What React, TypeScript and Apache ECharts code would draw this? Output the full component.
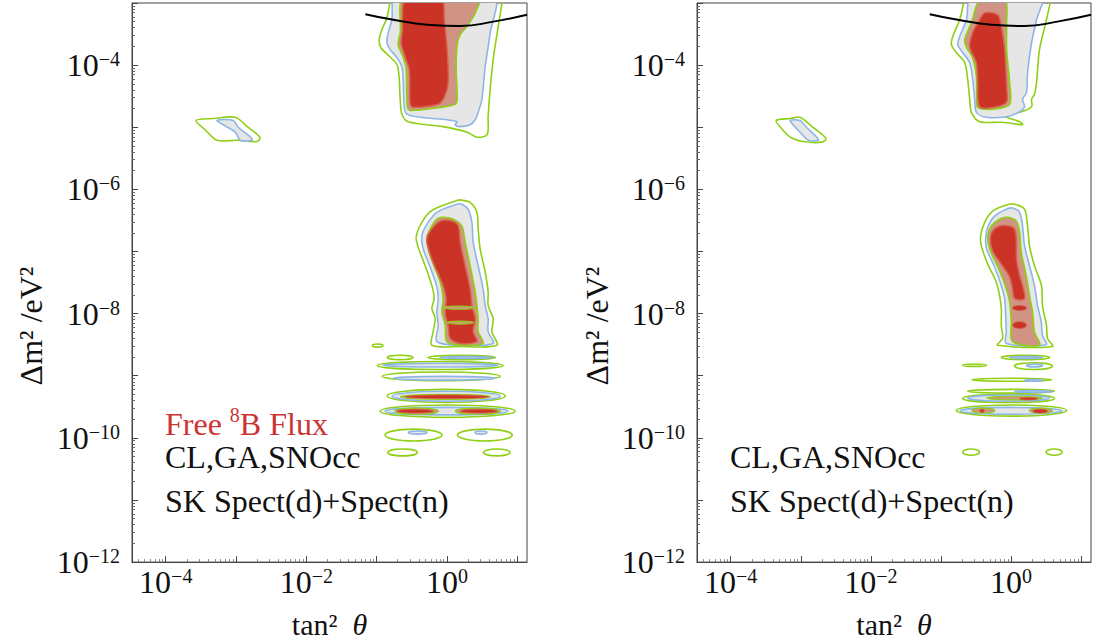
import React, { useEffect, useRef } from "react";
import * as echarts from "echarts";

const FONT = '"Liberation Serif", "Times New Roman", serif';
const GREEN = "#8fcf14";
const BLUE = "#8db6e6";
const GRAY = "#e6e6e6";
const TAN = "#d19484";
const RED = "#cb3326";
const RED_EDGE = "#d5624c";

// axes (log10 units)
const X_MIN = -4.48;
const X_MAX = 1.14;
const Y_MIN = -12;
const Y_MAX = -3;
const X_LABELS = [-4, -2, 0];
const Y_LABELS = [-12, -10, -8, -6, -4];
const X_MAJOR = [-4, -3, -2, -1, 0, 1];
const Y_MAJOR = [-12, -11, -10, -9, -8, -7, -6, -5, -4, -3];
const MINOR_FACTORS = [2, 3, 4, 5, 6, 7, 8, 9];

// black bound curve: [log tan^2, log dm^2]
const BOUND_CURVE = [[-1.16, -3.18], [-0.76, -3.27], [-0.28, -3.35], [0.19, -3.37], [0.66, -3.30], [1.14, -3.19]];

// ---------- left panel (Free 8B flux) ----------
const L_UPPER_OUTER = [[-0.80, -2.9], [-0.853, -3.24], [-0.925, -3.43], [-0.963, -3.59], [-0.939, -3.72], [-0.807, -3.87], [-0.711, -3.99], [-0.679, -4.19], [-0.664, -4.55], [-0.640, -4.79], [-0.550, -4.91], [-0.053, -4.99], [0.289, -5.08], [0.431, -5.16], [0.573, -5.12], [0.587, -4.83], [0.616, -4.39], [0.659, -3.91], [0.716, -3.48], [0.80, -2.9]];
const L_UPPER_BLUE = [[-0.73, -2.9], [-0.782, -3.27], [-0.835, -3.48], [-0.853, -3.64], [-0.807, -3.75], [-0.711, -3.88], [-0.640, -4.03], [-0.622, -4.23], [-0.607, -4.67], [-0.569, -4.79], [-0.380, -4.84], [0.0, -4.88], [0.142, -4.91], [0.118, -4.96], [0.189, -4.99], [0.331, -4.96], [0.403, -4.88], [0.445, -4.76], [0.498, -4.55], [0.545, -4.03], [0.616, -3.48], [0.67, -2.9]];
const L_UPPER_TAN = [[-0.607, -2.9], [-0.664, -3.48], [-0.693, -3.67], [-0.622, -3.87], [-0.579, -4.07], [-0.565, -4.67], [-0.522, -4.73], [-0.095, -4.68], [0.118, -4.63], [0.146, -4.55], [0.132, -4.07], [0.146, -3.67], [0.189, -3.51], [0.303, -3.35], [0.403, -3.16], [0.46, -2.9]];
const L_UPPER_RED = [[-0.579, -2.9], [-0.636, -3.48], [-0.650, -3.64], [-0.593, -3.87], [-0.536, -4.07], [-0.522, -4.63], [-0.479, -4.68], [-0.124, -4.63], [-0.038, -4.52], [0.018, -4.28], [0.004, -3.75], [-0.038, -3.27], [-0.081, -2.9]];

const L_MID_OUTER = [[0.142, -6.18], [-0.213, -6.34], [-0.356, -6.53], [-0.437, -6.77], [-0.408, -6.93], [-0.309, -7.23], [-0.213, -7.55], [-0.181, -7.76], [-0.213, -7.92], [-0.166, -8.08], [-0.195, -8.29], [-0.213, -8.51], [0.189, -8.53], [0.711, -8.51], [0.640, -8.29], [0.659, -8.08], [0.587, -7.87], [0.587, -7.65], [0.545, -7.33], [0.474, -6.96], [0.445, -6.64], [0.427, -6.37], [0.331, -6.21], [0.189, -6.17]];
const L_MID_BLUE = [[0.142, -6.24], [-0.142, -6.37], [-0.284, -6.56], [-0.356, -6.75], [-0.337, -6.96], [-0.238, -7.25], [-0.142, -7.57], [-0.124, -7.76], [-0.142, -7.97], [-0.124, -8.19], [-0.142, -8.45], [0.189, -8.51], [0.659, -8.48], [0.587, -8.29], [0.587, -8.08], [0.545, -7.87], [0.516, -7.60], [0.445, -7.23], [0.374, -6.85], [0.356, -6.53], [0.303, -6.32], [0.213, -6.24]];
const L_MID_TAN = [[-0.142, -6.48], [-0.238, -6.64], [-0.284, -6.80], [-0.238, -7.07], [-0.095, -7.49], [-0.053, -7.76], [-0.071, -7.97], [-0.024, -8.19], [0.0, -8.45], [0.189, -8.51], [0.516, -8.48], [0.445, -8.29], [0.445, -8.08], [0.427, -7.87], [0.403, -7.65], [0.331, -7.23], [0.260, -6.85], [0.213, -6.59], [0.090, -6.48], [-0.053, -6.45]];
const L_MID_RED = [[-0.095, -6.51], [-0.266, -6.72], [-0.284, -6.85], [-0.213, -7.12], [-0.053, -7.55], [-0.010, -7.76], [-0.024, -8.00], [0.018, -8.19], [0.047, -8.40], [0.189, -8.48], [0.427, -8.45], [0.374, -8.29], [0.403, -8.08], [0.356, -7.87], [0.331, -7.60], [0.260, -7.23], [0.189, -6.85], [0.161, -6.59], [0.071, -6.51]];

const L_ISLAND_OUTER = [[-3.57, -4.89], [-3.32, -4.86], [-3.01, -4.84], [-2.84, -4.99], [-2.66, -5.16], [-2.70, -5.23], [-2.98, -5.21], [-3.27, -5.21], [-3.44, -5.04]];
const L_ISLAND_BLUE = [[-3.27, -4.89], [-3.04, -4.89], [-2.97, -5.00], [-2.80, -5.15], [-2.77, -5.21], [-2.94, -5.21], [-3.01, -5.08], [-3.18, -4.96]];

// bands: [x from, x to, y top, y bottom]
const L_BANDS_GREEN = [[-1.06, -0.91, -8.49, -8.54], [-0.85, -0.48, -8.67, -8.74], [-0.27, 0.69, -8.67, -8.74], [-0.99, 0.80, -8.77, -8.90], [-0.92, 0.76, -8.94, -9.08], [-0.85, 0.83, -9.22, -9.43], [-0.95, 0.97, -9.47, -9.67], [-0.88, -0.07, -9.86, -10.05], [0.15, 0.93, -9.86, -10.05], [-0.84, -0.42, -10.18, -10.29], [0.52, 0.90, -10.18, -10.29]];
const L_BANDS_BLUE = [[-0.10, 0.66, -8.69, -8.72], [-0.91, 0.73, -8.80, -8.86], [-0.76, 0.69, -9.01, -9.07], [-0.78, 0.76, -9.25, -9.41], [-0.88, 0.87, -9.51, -9.63], [-0.55, -0.28, -9.89, -9.94], [0.40, 0.57, -9.89, -9.94]];
const L_BANDS_TAN = [[-0.66, 0.62, -9.30, -9.38], [-0.74, -0.12, -9.52, -9.62], [0.12, 0.76, -9.52, -9.62], [-0.05, 0.40, -7.88, -7.93], [0.0, 0.38, -8.12, -8.17]];
const L_BANDS_RED = [[-0.59, 0.59, -9.31, -9.37], [-0.71, -0.19, -9.54, -9.60], [0.19, 0.72, -9.54, -9.60]];

// ---------- right panel ----------
const R_UPPER_OUTER = [[-0.661, -2.9], [-0.733, -3.27], [-0.832, -3.54], [-0.851, -3.67], [-0.780, -3.80], [-0.661, -3.96], [-0.619, -4.23], [-0.590, -4.55], [-0.566, -4.76], [-0.448, -4.91], [-0.121, -4.92], [0.164, -4.96], [0.121, -4.91], [-0.064, -4.84], [-0.092, -4.79], [0.121, -4.76], [0.292, -4.67], [0.292, -4.55], [0.334, -4.47], [0.363, -4.28], [0.405, -3.75], [0.505, -3.27], [0.576, -2.9]];
const R_UPPER_BLUE = [[-0.566, -2.9], [-0.637, -3.27], [-0.733, -3.54], [-0.761, -3.67], [-0.690, -3.80], [-0.590, -3.96], [-0.548, -4.23], [-0.519, -4.55], [-0.495, -4.76], [-0.353, -4.84], [-0.064, -4.83], [0.121, -4.75], [0.192, -4.67], [0.164, -4.55], [0.220, -4.44], [0.235, -4.12], [0.292, -3.64], [0.363, -3.27], [0.434, -2.9]];
const R_UPPER_TAN = [[-0.424, -2.9], [-0.566, -3.32], [-0.661, -3.59], [-0.637, -3.71], [-0.548, -3.88], [-0.495, -4.19], [-0.491, -4.55], [-0.477, -4.68], [-0.263, -4.71], [-0.021, -4.63], [-0.021, -4.28], [-0.064, -3.75], [-0.064, -3.38], [-0.092, -2.9]];
const R_UPPER_RED = [[-0.377, -3.16], [-0.192, -3.19], [-0.139, -3.38], [-0.092, -3.75], [-0.064, -4.35], [-0.064, -4.59], [-0.211, -4.67], [-0.448, -4.67], [-0.477, -4.28], [-0.495, -3.96], [-0.590, -3.71], [-0.548, -3.48], [-0.448, -3.27]];

const R_MID_OUTER = [[-0.068, -6.25], [-0.263, -6.35], [-0.377, -6.53], [-0.434, -6.75], [-0.424, -6.91], [-0.334, -7.20], [-0.211, -7.49], [-0.164, -7.71], [-0.139, -7.92], [-0.139, -8.19], [-0.121, -8.40], [-0.192, -8.51], [0.590, -8.53], [0.519, -8.40], [0.505, -8.19], [0.448, -7.87], [0.434, -7.55], [0.334, -7.23], [0.263, -6.91], [0.235, -6.59], [0.192, -6.32], [0.050, -6.24]];
const R_MID_BLUE = [[-0.068, -6.32], [-0.235, -6.43], [-0.334, -6.61], [-0.363, -6.80], [-0.349, -6.96], [-0.235, -7.25], [-0.139, -7.55], [-0.092, -7.76], [-0.078, -8.03], [-0.068, -8.29], [-0.068, -8.48], [0.501, -8.50], [0.448, -8.35], [0.430, -8.13], [0.377, -7.87], [0.334, -7.55], [0.263, -7.23], [0.192, -6.91], [0.164, -6.59], [0.121, -6.37], [0.021, -6.30]];
const R_MID_TAN = [[-0.164, -6.48], [-0.282, -6.59], [-0.334, -6.75], [-0.306, -6.96], [-0.164, -7.31], [-0.068, -7.60], [-0.021, -7.81], [0.003, -8.13], [0.021, -8.45], [0.405, -8.51], [0.334, -8.29], [0.306, -7.97], [0.263, -7.71], [0.216, -7.39], [0.145, -7.01], [0.121, -6.69], [0.074, -6.51], [-0.050, -6.45]];
const R_MID_RED = [[-0.164, -6.59], [-0.263, -6.67], [-0.296, -6.80], [-0.263, -6.99], [-0.121, -7.23], [-0.021, -7.41], [0.021, -7.60], [0.050, -7.76], [0.192, -7.76], [0.164, -7.55], [0.121, -7.39], [0.078, -7.12], [0.074, -6.80], [0.050, -6.64], [-0.021, -6.59]];

const R_ISLAND_OUTER = [[-3.35, -4.89], [-3.15, -4.86], [-3.01, -4.84], [-2.84, -4.99], [-2.64, -5.18], [-2.70, -5.24], [-2.97, -5.23], [-3.15, -5.16], [-3.29, -5.00]];
const R_ISLAND_BLUE = [[-3.15, -4.89], [-3.01, -4.89], [-2.92, -5.00], [-2.78, -5.15], [-2.75, -5.21], [-2.89, -5.21], [-3.01, -5.08], [-3.11, -4.96]];

const R_BANDS_GREEN = [[-0.14, 0.55, -8.67, -8.74], [-0.69, -0.35, -8.81, -8.85], [0.05, 0.59, -8.79, -8.90], [-0.56, 0.58, -9.04, -9.09], [-0.62, 0.62, -9.22, -9.28], [-0.69, 0.62, -9.30, -9.43], [-0.78, 0.79, -9.47, -9.65], [-0.69, -0.45, -10.18, -10.28], [0.50, 0.73, -10.18, -10.28]];
const R_BANDS_BLUE = [[-0.02, 0.45, -8.69, -8.72], [0.22, 0.45, -8.81, -8.86], [0.19, 0.45, -9.06, -9.09], [0.05, 0.59, -9.24, -9.27], [-0.62, 0.55, -9.31, -9.41], [-0.73, 0.73, -9.51, -9.62]];
const R_BANDS_TAN = [[-0.35, 0.45, -9.33, -9.39], [-0.56, -0.23, -9.52, -9.60], [0.26, 0.59, -9.52, -9.60]];
const R_BANDS_RED = [[0.12, 0.38, -9.35, -9.39], [-0.45, -0.38, -9.54, -9.59], [0.31, 0.52, -9.54, -9.60], [0.02, 0.22, -7.87, -7.95], [0.02, 0.22, -8.13, -8.24]];

function minorTicks(lo: number, hi: number) {
  const out: number[] = [];
  for (let n = Math.floor(lo) - 1; n <= Math.ceil(hi); n++) {
    for (const k of MINOR_FACTORS) {
      const v = n + Math.log10(k);
      if (v > lo && v < hi) out.push(v);
    }
  }
  return out;
}

const STYLE_OUTLINE = { fill: "none", stroke: GREEN, lineWidth: 1.6 };
const STYLE_BLUE = { fill: GRAY, stroke: BLUE, lineWidth: 1.6 };
const STYLE_TAN = { fill: TAN, stroke: GREEN, lineWidth: 1.6 };
const STYLE_RED = { fill: RED, stroke: RED_EDGE, lineWidth: 1.5 };

function polySeries(gi: number, shapes: number[][][], style: any, closed = true) {
  return {
    type: "custom",
    xAxisIndex: gi * 2,
    yAxisIndex: gi * 2,
    clip: true,
    silent: true,
    data: shapes.map((s) => s[0]),
    renderItem: (params: any, api: any) => {
      const pts = shapes[params.dataIndex].map((p) => api.coord(p));
      return {
        type: closed ? "polygon" : "polyline",
        shape: { points: pts, smooth: 0.3 },
        style: { ...style },
      };
    },
  };
}

function bandSeries(gi: number, bands: number[][], style: any) {
  return {
    type: "custom",
    xAxisIndex: gi * 2,
    yAxisIndex: gi * 2,
    clip: true,
    silent: true,
    data: bands,
    encode: { x: [0, 1], y: [2, 3] },
    renderItem: (params: any, api: any) => {
      const a = api.coord([api.value(0), api.value(2)]);
      const b = api.coord([api.value(1), api.value(3)]);
      return {
        type: "ellipse",
        shape: { cx: (a[0] + b[0]) / 2, cy: (a[1] + b[1]) / 2, rx: Math.abs(b[0] - a[0]) / 2, ry: Math.abs(b[1] - a[1]) / 2 },
        style: { ...style },
      };
    },
  };
}

const RICH = {
  b: { fontFamily: FONT, fontSize: 32, lineHeight: 32, color: "#111", padding: [6, 0, 6, 0] },
  s: { fontFamily: FONT, fontSize: 20, lineHeight: 20, color: "#111", verticalAlign: "top" },
};

const fmtPow = (v: number) => `{b|10}{s|${v < 0 ? "\u2212" + -v : v}}`;

function axesFor(gi: number) {
  const x = [
    {
      type: "value",
      gridIndex: gi,
      position: "bottom",
      min: X_MIN,
      max: X_MAX,
      axisLine: { show: true, onZero: false, lineStyle: { color: "#444", width: 1 } },
      axisTick: { show: true, inside: true, length: 6, customValues: X_MAJOR, lineStyle: { color: "#444" } },
      axisLabel: { show: true, customValues: X_LABELS, formatter: fmtPow, rich: RICH, margin: 4 },
      splitLine: { show: false },
      name: "tan\u00b2  {i|\u03b8}",
      nameLocation: "middle",
      nameGap: 40,
      nameTextStyle: { fontFamily: FONT, fontSize: 30, color: "#111", rich: { i: { fontFamily: FONT, fontSize: 30, fontStyle: "italic", color: "#111" } } },
    },
    {
      type: "value",
      gridIndex: gi,
      position: "bottom",
      min: X_MIN,
      max: X_MAX,
      axisLine: { show: false, onZero: false },
      axisTick: { show: true, inside: true, length: 3, customValues: minorTicks(X_MIN, X_MAX), lineStyle: { color: "#888" } },
      axisLabel: { show: false },
      splitLine: { show: false },
    },
  ];
  const y = [
    {
      type: "value",
      gridIndex: gi,
      position: "left",
      min: Y_MIN,
      max: Y_MAX,
      axisLine: { show: true, onZero: false, lineStyle: { color: "#444", width: 1 } },
      axisTick: { show: true, inside: true, length: 6, customValues: Y_MAJOR, lineStyle: { color: "#444" } },
      axisLabel: { show: true, customValues: Y_LABELS, formatter: fmtPow, rich: RICH, margin: 12 },
      splitLine: { show: false },
    },
    {
      type: "value",
      gridIndex: gi,
      position: "left",
      min: Y_MIN,
      max: Y_MAX,
      axisLine: { show: false, onZero: false },
      axisTick: { show: true, inside: true, length: 3, customValues: minorTicks(Y_MIN, Y_MAX), lineStyle: { color: "#666" } },
      axisLabel: { show: false },
      splitLine: { show: false },
    },
  ];
  return { x, y };
}

function panelSeries(gi: number, d: any) {
  return [
    polySeries(gi, [d.upperOuter], STYLE_OUTLINE, false),
    polySeries(gi, [d.midOuter, d.islandOuter], STYLE_OUTLINE, true),
    bandSeries(gi, d.bandsGreen, STYLE_OUTLINE),
    polySeries(gi, [d.upperBlue, d.midBlue, d.islandBlue], STYLE_BLUE, true),
    bandSeries(gi, d.bandsBlue, STYLE_BLUE),
    polySeries(gi, [d.upperTan, d.midTan], STYLE_TAN, true),
    polySeries(gi, [d.upperRed, d.midRed], STYLE_RED, true),
    bandSeries(gi, d.bandsTan, { fill: TAN, stroke: GREEN, lineWidth: 1.2 }),
    bandSeries(gi, d.bandsRed, { fill: RED, stroke: RED_EDGE, lineWidth: 0.8 }),
    {
      type: "line",
      xAxisIndex: gi * 2,
      yAxisIndex: gi * 2,
      data: BOUND_CURVE,
      smooth: true,
      showSymbol: false,
      symbol: "none",
      silent: true,
      clip: true,
      lineStyle: { color: "#000", width: 2 },
    },
  ];
}

const textStyle = (size: number, color: string) => ({ fontFamily: FONT, fontSize: size, fill: color });

export default function App() {
  const ref = useRef<HTMLDivElement>(null);
  useEffect(() => {
    if (!ref.current) return;
    const chart = echarts.init(ref.current, null, { renderer: "svg" });
    const a0 = axesFor(0);
    const a1 = axesFor(1);
    const left = {
      upperOuter: L_UPPER_OUTER, midOuter: L_MID_OUTER, islandOuter: L_ISLAND_OUTER,
      upperBlue: L_UPPER_BLUE, midBlue: L_MID_BLUE, islandBlue: L_ISLAND_BLUE,
      upperTan: L_UPPER_TAN, midTan: L_MID_TAN, upperRed: L_UPPER_RED, midRed: L_MID_RED,
      bandsGreen: L_BANDS_GREEN, bandsBlue: L_BANDS_BLUE, bandsTan: L_BANDS_TAN, bandsRed: L_BANDS_RED,
    };
    const right = {
      upperOuter: R_UPPER_OUTER, midOuter: R_MID_OUTER, islandOuter: R_ISLAND_OUTER,
      upperBlue: R_UPPER_BLUE, midBlue: R_MID_BLUE, islandBlue: R_ISLAND_BLUE,
      upperTan: R_UPPER_TAN, midTan: R_MID_TAN, upperRed: R_UPPER_RED, midRed: R_MID_RED,
      bandsGreen: R_BANDS_GREEN, bandsBlue: R_BANDS_BLUE, bandsTan: R_BANDS_TAN, bandsRed: R_BANDS_RED,
    };
    const yTitle = (x: number) => ({
      type: "text",
      x,
      y: 326,
      rotation: Math.PI / 2,
      style: { text: "\u0394m\u00b2 /eV\u00b2", align: "center", verticalAlign: "middle", ...textStyle(32, "#111") },
    });
    const option: any = {
      animation: false,
      backgroundColor: "#ffffff",
      grid: [
        { left: 132, top: 3, width: 395, height: 562, show: true, borderColor: "#444", borderWidth: 1, backgroundColor: "transparent" },
        { left: 697, top: 3, width: 394, height: 562, show: true, borderColor: "#444", borderWidth: 1, backgroundColor: "transparent" },
      ],
      xAxis: [...a0.x, ...a1.x],
      yAxis: [...a0.y, ...a1.y],
      series: [...panelSeries(0, left), ...panelSeries(1, right)],
      graphic: [
        yTitle(31),
        yTitle(597),
        {
          type: "text", x: 165, y: 421,
          style: {
            text: "{a|Free }{s|8}{a|B Flux}",
            verticalAlign: "middle",
            rich: {
              a: { ...textStyle(32, "#cc3333"), lineHeight: 32, padding: [6, 0, 0, 0] },
              s: { ...textStyle(20, "#cc3333"), lineHeight: 20, verticalAlign: "top" },
            },
          },
        },
        { type: "text", x: 165, y: 457, style: { text: "CL,GA,SNOcc", verticalAlign: "middle", ...textStyle(32, "#111") } },
        { type: "text", x: 165, y: 501, style: { text: "SK Spect(d)+Spect(n)", verticalAlign: "middle", ...textStyle(32, "#111") } },
        { type: "text", x: 730, y: 457, style: { text: "CL,GA,SNOcc", verticalAlign: "middle", ...textStyle(32, "#111") } },
        { type: "text", x: 730, y: 501, style: { text: "SK Spect(d)+Spect(n)", verticalAlign: "middle", ...textStyle(32, "#111") } },
      ],
    };
    chart.setOption(option);
    return () => chart.dispose();
  }, []);
  return <div ref={ref} style={{ position: "fixed", left: 0, top: 0, width: 1096, height: 644, background: "#fff" }} />;
}
